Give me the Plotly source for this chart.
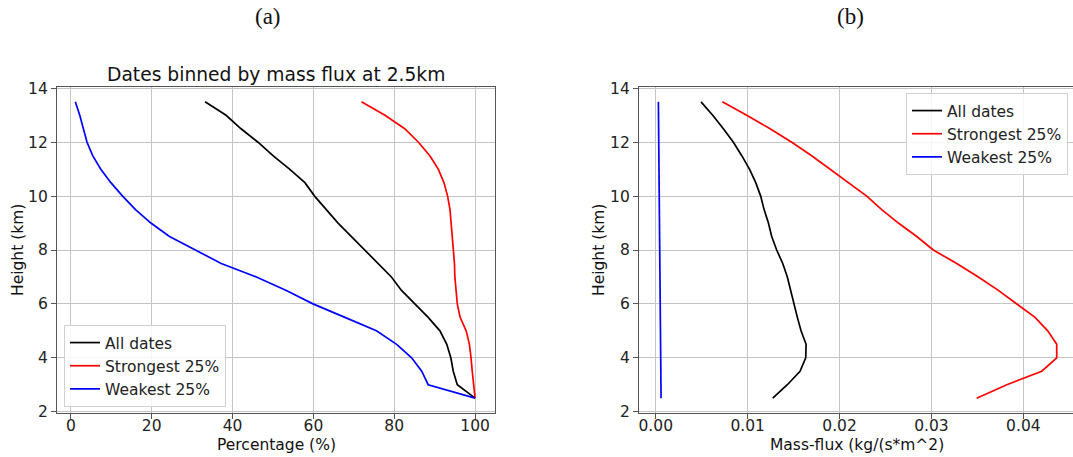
import plotly.graph_objects as go

# Heights of the profile levels (km)
heights = [2.5, 3.0, 3.5, 4.0, 4.5, 5.0, 5.5, 6.0, 6.5, 7.0, 7.5, 8.0,
           8.5, 9.0, 9.5, 10.0, 10.5, 11.0, 11.5, 12.0, 12.5, 13.0, 13.5]

# (a) percentage of dates with updraft reaching each level
pct_all = [100, 95.6, 94.6, 94.0, 93.0, 91.3, 88.4, 85.1, 81.8, 79.3, 76.0, 72.7,
           69.2, 66.1, 63.2, 60.3, 57.9, 54.1, 50.0, 46.3, 42.1, 38.4, 33.2]
pct_strong = [100, 99.6, 99.3, 99.0, 98.6, 97.8, 96.3, 95.6, 95.3, 95.0, 94.9, 94.6,
              94.4, 94.1, 93.8, 93.2, 92.3, 90.9, 88.8, 86.0, 82.6, 77.7, 71.9]
pct_weak = [100, 88.4, 86.8, 84.3, 80.6, 75.6, 67.8, 59.9, 53.3, 45.9, 37.2, 30.6,
            24.4, 19.8, 16.0, 12.8, 9.9, 7.4, 5.4, 4.0, 3.1, 2.2, 1.1]

# (b) mean mass flux (kg/(s*m^2))
mf_all = [0.01273, 0.01432, 0.0157, 0.01632, 0.01636, 0.01581, 0.01541, 0.01505,
          0.01472, 0.01432, 0.01382, 0.01316, 0.01262, 0.01226, 0.01179, 0.01142,
          0.01088, 0.0102, 0.00936, 0.00845, 0.00736, 0.0062, 0.00493]
mf_strong = [0.03492, 0.0382, 0.042, 0.04363, 0.04363, 0.04265, 0.04127, 0.03927,
             0.03728, 0.0351, 0.03275, 0.0302, 0.0284, 0.0264, 0.02459, 0.02296,
             0.02096, 0.01897, 0.01697, 0.0148, 0.01244, 0.0099, 0.00725]
mf_weak = [0.00058, 0.00057, 0.00056, 0.00055, 0.00054, 0.00052, 0.00051, 0.00049,
           0.00047, 0.00046, 0.00044, 0.00043, 0.00041, 0.0004, 0.00039, 0.00037,
           0.00036, 0.00035, 0.00034, 0.00032, 0.00031, 0.0003, 0.00029]

series_names = ["All dates", "Strongest 25%", "Weakest 25%"]
colors = ["#000000", "#ff0000", "#0000ff"]

W, H = 1073, 457
FONT = "DejaVu Sans"
FS = 15.5


def px(x):
    return x / W


def py(y):
    return 1 - y / H


fig = go.Figure()

for name, vals, c in zip(series_names, [pct_all, pct_strong, pct_weak], colors):
    fig.add_trace(go.Scatter(x=vals, y=heights, mode="lines", name=name,
                             line=dict(color=c, width=1.7),
                             xaxis="x", yaxis="y", legend="legend"))

for name, vals, c in zip(series_names, [mf_all, mf_strong, mf_weak], colors):
    fig.add_trace(go.Scatter(x=vals, y=heights, mode="lines", name=name,
                             line=dict(color=c, width=1.7),
                             xaxis="x2", yaxis="y2", legend="legend2"))

axis_common = dict(
    showgrid=True, gridcolor="#c4c4c4", gridwidth=1,
    showline=True, linecolor="#555555", linewidth=1.2,
    ticks="outside", ticklen=5, tickwidth=1, tickcolor="#555555",
    tickfont=dict(family=FONT, size=FS, color="#222222"),
    zeroline=False, automargin=False,
)

ydom = [py(413), py(87)]

legend_style = dict(bgcolor="rgba(255,255,255,0.85)", bordercolor="#d0d0d0",
                    borderwidth=1, font=dict(family=FONT, size=FS, color="#222222"))

fig.update_layout(
    width=W, height=H,
    margin=dict(l=0, r=0, t=0, b=0, autoexpand=False),
    paper_bgcolor="white", plot_bgcolor="white",
    xaxis=dict(domain=[px(57), px(495)], range=[-3.43, 104.93],
               tickvals=[0, 20, 40, 60, 80, 100], mirror=True, anchor="y",
               ticklabelstandoff=-7, **axis_common),
    yaxis=dict(domain=ydom, range=[1.95, 14.05],
               tickvals=[2, 4, 6, 8, 10, 12, 14], mirror=True, anchor="x",
               **axis_common),
    xaxis2=dict(domain=[px(639), 1.0], range=[-0.00182, 0.0454],
                tickvals=[0, 0.01, 0.02, 0.03, 0.04], tickformat=".2f",
                mirror=True, anchor="y2", ticklabelstandoff=-7, **axis_common),
    yaxis2=dict(domain=ydom, range=[1.95, 14.05],
                tickvals=[2, 4, 6, 8, 10, 12, 14], mirror=False, anchor="x2",
                **axis_common),
    legend=dict(x=px(64), y=py(407), xanchor="left", yanchor="bottom", **legend_style),
    legend2=dict(x=px(1068), y=py(93), xanchor="right", yanchor="top", **legend_style),
    showlegend=True,
)

annotations = [
    dict(text="(a)", x=px(268), y=py(17), font=dict(family="Liberation Serif", size=23)),
    dict(text="(b)", x=px(850), y=py(17), font=dict(family="Liberation Serif", size=23)),
    dict(text="Dates binned by mass flux at 2.5km", x=px(276), y=py(75),
         font=dict(family=FONT, size=18.7)),
    dict(text="Percentage (%)", x=px(276), y=py(445), font=dict(family=FONT, size=FS)),
    dict(text="Mass-flux (kg/(s*m^2)", x=px(857), y=py(445), font=dict(family=FONT, size=FS)),
    dict(text="Height (km)", x=px(18), y=py(250), textangle=-90,
         font=dict(family=FONT, size=FS)),
    dict(text="Height (km)", x=px(599), y=py(250), textangle=-90,
         font=dict(family=FONT, size=FS)),
]
for a in annotations:
    a.update(xref="paper", yref="paper", showarrow=False,
             xanchor="center", yanchor="middle")
    a["font"]["color"] = "#111111"
fig.update_layout(annotations=annotations)

fig.write_html("out.html")
